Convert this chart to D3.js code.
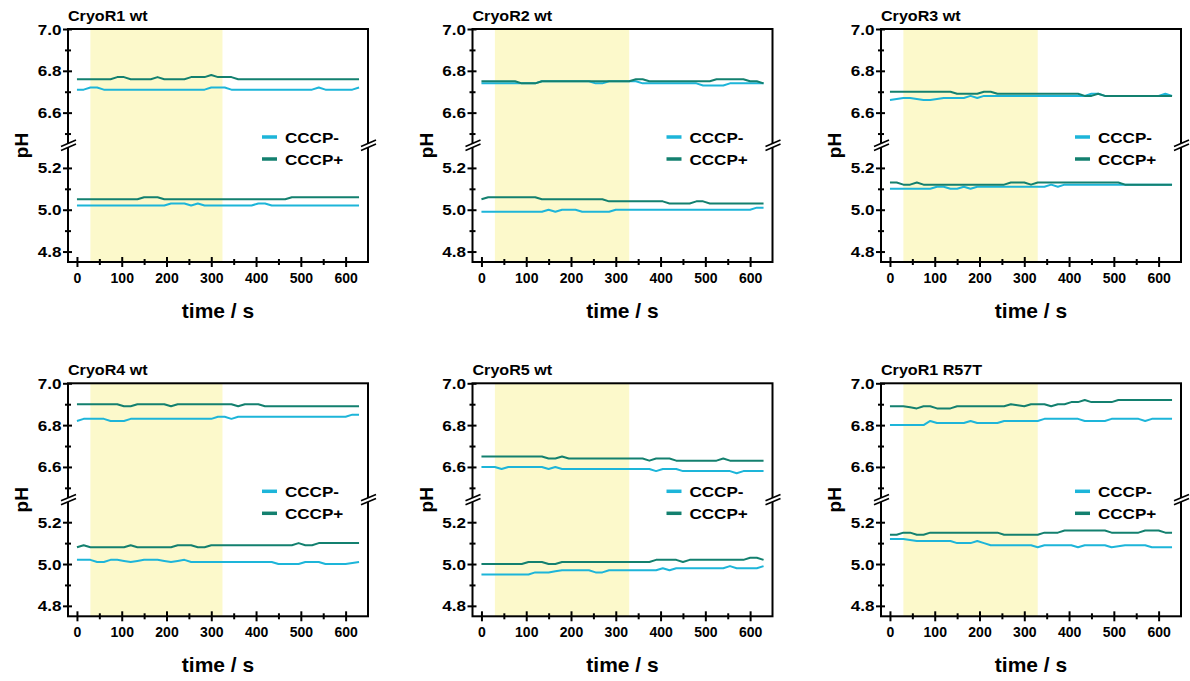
<!DOCTYPE html>
<html>
<head>
<meta charset="utf-8">
<script src="https://cdn.jsdelivr.net/npm/d3@7"></script>
<style>
  body { margin: 0; background: #fff; }
  svg { display: block; }
  text { font-family: "Liberation Sans", Arial, sans-serif; font-weight: bold; fill: #000; }
</style>
</head>
<body>
<svg id="chart" width="1190" height="681"></svg>
<script>
// ---- sampling times (s) ----
const time = [0,15,30,45,60,75,90,105,120,135,150,165,180,195,210,225,240,255,270,285,300,315,330,345,360,375,390,405,420,435,450,465,480,495,510,525,540,555,570,585,600,615,630];

// ---- pH traces: "_hi" = near-neutral start, "_lo" = acidic start ----
// CryoR1 wt
const r1wt_minus_hi = [6.71,6.71,6.72,6.72,6.71,6.71,6.71,6.71,6.71,6.71, 6.71,6.71,6.71,6.71,6.71,6.71,6.71,6.71,6.71,6.71, 6.72,6.72,6.72,6.71,6.71,6.71,6.71,6.71,6.71,6.71, 6.71,6.71,6.71,6.71,6.71,6.71,6.72,6.71,6.71,6.71, 6.71,6.71,6.72];
const r1wt_plus_hi  = [6.76,6.76,6.76,6.76,6.76,6.76,6.77,6.77,6.76,6.76, 6.76,6.76,6.77,6.76,6.76,6.76,6.76,6.77,6.77,6.77, 6.78,6.77,6.77,6.77,6.76,6.76,6.76,6.76,6.76,6.76, 6.76,6.76,6.76,6.76,6.76,6.76,6.76,6.76,6.76,6.76, 6.76,6.76,6.76];
const r1wt_minus_lo = [5.02,5.02,5.02,5.02,5.02,5.02,5.02,5.02,5.02,5.02, 5.02,5.02,5.02,5.02,5.03,5.03,5.03,5.02,5.03,5.02, 5.02,5.02,5.02,5.02,5.02,5.02,5.02,5.03,5.03,5.02, 5.02,5.02,5.02,5.02,5.02,5.02,5.02,5.02,5.02,5.02, 5.02,5.02,5.02];
const r1wt_plus_lo  = [5.05,5.05,5.05,5.05,5.05,5.05,5.05,5.05,5.05,5.05, 5.06,5.06,5.06,5.05,5.05,5.05,5.05,5.05,5.05,5.05, 5.05,5.05,5.05,5.05,5.05,5.05,5.05,5.05,5.05,5.05, 5.05,5.05,5.06,5.06,5.06,5.06,5.06,5.06,5.06,5.06, 5.06,5.06,5.06];

// CryoR2 wt
const r2wt_minus_hi = [6.74,6.74,6.74,6.74,6.74,6.74,6.74,6.74,6.74,6.75, 6.75,6.75,6.75,6.75,6.75,6.75,6.75,6.74,6.74,6.75, 6.75,6.75,6.75,6.75,6.74,6.74,6.74,6.74,6.74,6.74, 6.74,6.74,6.74,6.73,6.73,6.73,6.73,6.74,6.74,6.74, 6.74,6.74,6.74];
const r2wt_plus_hi  = [6.75,6.75,6.75,6.75,6.75,6.75,6.74,6.74,6.74,6.75, 6.75,6.75,6.75,6.75,6.75,6.75,6.75,6.75,6.75,6.75, 6.75,6.75,6.75,6.76,6.76,6.75,6.75,6.75,6.75,6.75, 6.75,6.75,6.75,6.75,6.75,6.76,6.76,6.76,6.76,6.76, 6.75,6.75,6.74];
const r2wt_minus_lo = [4.99,4.99,4.99,4.99,4.99,4.99,4.99,4.99,4.99,4.99, 5.00,4.99,5.00,5.00,5.00,4.99,4.99,4.99,4.99,4.99, 5.00,5.00,5.00,5.00,5.00,5.00,5.00,5.00,5.00,5.00, 5.00,5.00,5.00,5.00,5.00,5.00,5.00,5.00,5.00,5.00, 5.00,5.01,5.01];
const r2wt_plus_lo  = [5.05,5.06,5.06,5.06,5.06,5.06,5.06,5.06,5.06,5.05, 5.05,5.05,5.05,5.05,5.05,5.05,5.05,5.05,5.05,5.04, 5.04,5.04,5.04,5.04,5.04,5.04,5.04,5.04,5.03,5.03, 5.03,5.03,5.04,5.04,5.03,5.03,5.03,5.03,5.03,5.03, 5.03,5.03,5.03];

// CryoR3 wt
const r3wt_minus_hi = [6.66,6.665,6.67,6.67,6.665,6.66,6.66,6.665,6.67,6.67, 6.67,6.67,6.68,6.67,6.68,6.68,6.68,6.68,6.68,6.68, 6.68,6.68,6.68,6.68,6.68,6.68,6.68,6.68,6.68,6.68, 6.69,6.69,6.68,6.68,6.68,6.68,6.68,6.68,6.68,6.68, 6.68,6.69,6.68];
const r3wt_plus_hi  = [6.70,6.70,6.70,6.70,6.70,6.70,6.70,6.70,6.70,6.70, 6.69,6.69,6.69,6.69,6.70,6.70,6.69,6.69,6.69,6.69, 6.69,6.69,6.69,6.69,6.69,6.69,6.69,6.69,6.69,6.68, 6.68,6.69,6.68,6.68,6.68,6.68,6.68,6.68,6.68,6.68, 6.68,6.68,6.68];
const r3wt_minus_lo = [5.10,5.10,5.10,5.10,5.10,5.10,5.10,5.11,5.11,5.10, 5.10,5.11,5.10,5.11,5.11,5.11,5.11,5.11,5.11,5.11, 5.11,5.11,5.11,5.11,5.12,5.11,5.12,5.12,5.12,5.12, 5.12,5.12,5.12,5.12,5.12,5.12,5.12,5.12,5.12,5.12, 5.12,5.12,5.12];
const r3wt_plus_lo  = [5.13,5.13,5.12,5.12,5.13,5.12,5.12,5.12,5.12,5.12, 5.12,5.12,5.12,5.12,5.12,5.12,5.12,5.12,5.13,5.13, 5.13,5.12,5.13,5.13,5.13,5.13,5.13,5.13,5.13,5.13, 5.13,5.13,5.13,5.13,5.13,5.12,5.12,5.12,5.12,5.12, 5.12,5.12,5.12];

// CryoR4 wt
const r4wt_minus_hi = [6.82,6.83,6.83,6.83,6.83,6.82,6.82,6.82,6.83,6.83, 6.83,6.83,6.83,6.83,6.83,6.83,6.83,6.83,6.83,6.83, 6.83,6.84,6.84,6.83,6.84,6.84,6.84,6.84,6.84,6.84, 6.84,6.84,6.84,6.84,6.84,6.84,6.84,6.84,6.84,6.84, 6.84,6.85,6.85];
const r4wt_plus_hi  = [6.90,6.90,6.90,6.90,6.90,6.90,6.90,6.89,6.89,6.90, 6.90,6.90,6.90,6.90,6.89,6.90,6.90,6.90,6.90,6.90, 6.90,6.90,6.90,6.90,6.89,6.90,6.90,6.90,6.89,6.89, 6.89,6.89,6.89,6.89,6.89,6.89,6.89,6.89,6.89,6.89, 6.89,6.89,6.89];
const r4wt_minus_lo = [5.02,5.02,5.02,5.01,5.01,5.02,5.02,5.015,5.01,5.015, 5.02,5.02,5.02,5.015,5.01,5.015,5.02,5.01,5.01,5.01, 5.01,5.01,5.01,5.01,5.01,5.01,5.01,5.01,5.01,5.01, 5.00,5.00,5.00,5.00,5.01,5.01,5.01,5.00,5.00,5.00, 5.00,5.005,5.01];
const r4wt_plus_lo  = [5.08,5.09,5.08,5.08,5.08,5.08,5.08,5.08,5.09,5.08, 5.08,5.08,5.08,5.08,5.08,5.09,5.09,5.09,5.08,5.08, 5.09,5.09,5.09,5.09,5.09,5.09,5.09,5.09,5.09,5.09, 5.09,5.09,5.09,5.10,5.09,5.09,5.10,5.10,5.10,5.10, 5.10,5.10,5.10];

// CryoR5 wt
const r5wt_minus_hi = [6.60,6.60,6.60,6.59,6.60,6.60,6.60,6.60,6.60,6.60, 6.59,6.60,6.59,6.59,6.59,6.59,6.59,6.59,6.59,6.59, 6.59,6.59,6.59,6.59,6.59,6.59,6.58,6.59,6.59,6.59, 6.58,6.58,6.58,6.58,6.58,6.58,6.58,6.58,6.57,6.58, 6.58,6.58,6.58];
const r5wt_plus_hi  = [6.65,6.65,6.65,6.65,6.65,6.65,6.65,6.65,6.65,6.65, 6.64,6.64,6.65,6.64,6.64,6.64,6.64,6.64,6.64,6.64, 6.64,6.64,6.64,6.64,6.64,6.63,6.64,6.64,6.64,6.63, 6.63,6.63,6.63,6.63,6.63,6.63,6.64,6.63,6.63,6.63, 6.63,6.63,6.63];
const r5wt_minus_lo = [4.95,4.95,4.95,4.95,4.95,4.95,4.95,4.95,4.96,4.96, 4.96,4.965,4.97,4.97,4.97,4.97,4.97,4.96,4.96,4.97, 4.97,4.97,4.97,4.97,4.97,4.97,4.97,4.98,4.97,4.98, 4.98,4.98,4.98,4.98,4.98,4.98,4.98,4.99,4.98,4.98, 4.98,4.98,4.99];
const r5wt_plus_lo  = [5.00,5.00,5.00,5.00,5.00,5.00,5.00,5.01,5.01,5.01, 5.00,5.00,5.01,5.01,5.01,5.01,5.01,5.01,5.01,5.01, 5.01,5.01,5.01,5.01,5.01,5.01,5.02,5.02,5.02,5.02, 5.01,5.02,5.02,5.02,5.02,5.02,5.02,5.02,5.02,5.02, 5.03,5.03,5.02];

// CryoR1 R57T
const r1m_minus_hi = [6.80,6.80,6.80,6.80,6.80,6.80,6.82,6.81,6.81,6.81, 6.81,6.81,6.82,6.81,6.81,6.81,6.81,6.82,6.82,6.82, 6.82,6.82,6.82,6.83,6.83,6.83,6.83,6.83,6.83,6.82, 6.82,6.82,6.82,6.83,6.83,6.83,6.83,6.83,6.82,6.83, 6.83,6.83,6.83];
const r1m_plus_hi  = [6.89,6.89,6.89,6.885,6.88,6.89,6.89,6.88,6.88,6.88, 6.89,6.89,6.89,6.89,6.89,6.89,6.89,6.89,6.90,6.895, 6.89,6.90,6.90,6.90,6.89,6.90,6.90,6.91,6.91,6.92, 6.91,6.91,6.91,6.91,6.92,6.92,6.92,6.92,6.92,6.92, 6.92,6.92,6.92];
const r1m_minus_lo = [5.12,5.12,5.12,5.115,5.11,5.11,5.11,5.11,5.11,5.11, 5.10,5.10,5.10,5.11,5.10,5.09,5.09,5.09,5.09,5.09, 5.09,5.09,5.08,5.09,5.09,5.09,5.09,5.09,5.08,5.09, 5.09,5.09,5.09,5.08,5.085,5.09,5.09,5.09,5.09,5.08, 5.08,5.08,5.08];
const r1m_plus_lo  = [5.14,5.14,5.15,5.15,5.14,5.14,5.15,5.15,5.15,5.15, 5.15,5.15,5.15,5.15,5.15,5.15,5.15,5.14,5.14,5.14, 5.14,5.14,5.14,5.15,5.15,5.15,5.16,5.16,5.16,5.16, 5.16,5.16,5.16,5.15,5.15,5.15,5.15,5.15,5.16,5.16, 5.16,5.15,5.15];

// ---- labels, illumination window and axis ticks ----
const panelTitles = ["CryoR1 wt", "CryoR2 wt", "CryoR3 wt", "CryoR4 wt", "CryoR5 wt", "CryoR1 R57T"];
const seriesNames = ["CCCP-", "CCCP+"];
const lightOn  = [30, 30, 30, 30, 30, 30];
const lightOff = [325, 330, 330, 325, 330, 330];
const xMajor = [0, 100, 200, 300, 400, 500, 600];
const xMinor = [50, 150, 250, 350, 450, 550];
const yMajorHi = [6.6, 6.8, 7.0];
const yMinorHi = [6.5, 6.7, 6.9];
const yMajorLo = [4.8, 5.0, 5.2];
const yMinorLo = [4.9, 5.1];
const xLabel = "time / s";
const yLabel = "pH";

const traces = [
  [r1wt_minus_hi, r1wt_plus_hi, r1wt_minus_lo, r1wt_plus_lo],
  [r2wt_minus_hi, r2wt_plus_hi, r2wt_minus_lo, r2wt_plus_lo],
  [r3wt_minus_hi, r3wt_plus_hi, r3wt_minus_lo, r3wt_plus_lo],
  [r4wt_minus_hi, r4wt_plus_hi, r4wt_minus_lo, r4wt_plus_lo],
  [r5wt_minus_hi, r5wt_plus_hi, r5wt_minus_lo, r5wt_plus_lo],
  [r1m_minus_hi,  r1m_plus_hi,  r1m_minus_lo,  r1m_plus_lo]
];

// ---- styling / layout ----
const colors = { "CCCP-": "#1db5d9", "CCCP+": "#13806f" };
const shadeColor = "#fcf9cb";
const colLeft = [68, 472.5, 881];
const rowTop = [29, 383.3];
const W = 300, H = 233, gap = 3;
const segH = (H - gap) / 2;
const yTickStretch = 1.22;   // tick numerals on the pH axis are set wide

const svg = d3.select("#chart");

traces.forEach((set, p) => {
  const left = colLeft[p % 3], top = rowTop[Math.floor(p / 3)];
  const g = svg.append("g").attr("transform", `translate(${left},${top})`);

  const x = d3.scaleLinear().domain([-20, 650]).range([0, W]);
  const yHi = d3.scaleLinear().domain([6.45, 7.0]).range([segH, 0]);
  const yLo = d3.scaleLinear().domain([4.75, 5.30]).range([H, H - segH]);

  // illumination period
  g.append("rect")
    .attr("x", x(lightOn[p])).attr("y", 0)
    .attr("width", x(lightOff[p]) - x(lightOn[p])).attr("height", H)
    .attr("fill", shadeColor);

  // traces: CCCP- first, CCCP+ on top
  const pairs = [[set[0], "CCCP-", yHi], [set[2], "CCCP-", yLo], [set[1], "CCCP+", yHi], [set[3], "CCCP+", yLo]];
  pairs.forEach(([vals, name, y]) => {
    const line = d3.line().x((d, i) => x(time[i])).y(d => y(d));
    g.append("path").datum(vals)
      .attr("d", line)
      .attr("fill", "none")
      .attr("stroke", colors[name])
      .attr("stroke-width", 2)
      .attr("stroke-linejoin", "round");
  });

  // frame
  g.append("rect").attr("x", 0).attr("y", 0).attr("width", W).attr("height", H)
    .attr("fill", "none").attr("stroke", "#000").attr("stroke-width", 2);

  // x axis
  const gx = g.append("g").attr("transform", `translate(0,${H})`)
    .call(d3.axisBottom(x).tickValues(xMajor).tickFormat(d3.format("d")).tickSizeOuter(0));
  gx.select(".domain").remove();
  gx.selectAll(".tick line").attr("y1", -5).attr("y2", 5).attr("stroke", "#000").attr("stroke-width", 2);
  gx.selectAll(".tick text").attr("y", 21).attr("dy", null).style("font-size", "14px");
  const gxm = g.append("g").attr("transform", `translate(0,${H})`)
    .call(d3.axisBottom(x).tickValues(xMinor).tickFormat("").tickSizeOuter(0));
  gxm.select(".domain").remove();
  gxm.selectAll(".tick line").attr("y1", -3).attr("y2", 3).attr("stroke", "#000").attr("stroke-width", 2);

  // y axes (two segments)
  [[yHi, yMajorHi, yMinorHi], [yLo, yMajorLo, yMinorLo]].forEach(([y, major, minor]) => {
    const ga = g.append("g").call(d3.axisLeft(y).tickValues(major).tickFormat(d3.format(".1f")).tickSizeOuter(0));
    ga.select(".domain").remove();
    ga.selectAll(".tick line").attr("x1", -5).attr("x2", 4).attr("stroke", "#000").attr("stroke-width", 2);
    ga.selectAll(".tick text")
      .attr("x", -6.5 / yTickStretch).attr("dy", "0.36em")
      .attr("transform", `scale(${yTickStretch},1)`)
      .style("font-size", "14px");
    const gm = g.append("g").call(d3.axisLeft(y).tickValues(minor).tickFormat("").tickSizeOuter(0));
    gm.select(".domain").remove();
    gm.selectAll(".tick line").attr("x1", -3).attr("x2", 3).attr("stroke", "#000").attr("stroke-width", 2);
  });

  // axis break marks on both vertical edges
  const yb = H / 2;
  [0, W].forEach(ax => {
    const b = g.append("g").attr("transform", `translate(${ax},${yb})`);
    b.append("polygon").attr("points", "-7,1 8,-5.4 8,-1.4 -7,5").attr("fill", "#fff");
    b.append("line").attr("x1", -7).attr("y1", 1).attr("x2", 8).attr("y2", -5.4).attr("stroke", "#000").attr("stroke-width", 1.6);
    b.append("line").attr("x1", -7).attr("y1", 5).attr("x2", 8).attr("y2", -1.4).attr("stroke", "#000").attr("stroke-width", 1.6);
  });

  // titles and axis labels
  g.append("text").attr("transform", "translate(0,-8.5) scale(1.15,1)")
    .style("font-size", "14px").text(panelTitles[p]);
  g.append("text").attr("transform", `translate(${W / 2},${H + 56}) scale(1.05,1)`).attr("text-anchor", "middle")
    .style("font-size", "20px").text(xLabel);
  g.append("text").attr("transform", `translate(${-40},${H / 2}) rotate(-90)`)
    .attr("text-anchor", "middle").style("font-size", "19px").text(yLabel);

  // legend
  const lg = g.append("g").attr("transform", "translate(194,108)");
  seriesNames.forEach((name, i) => {
    lg.append("line").attr("x1", 0).attr("x2", 15).attr("y1", i * 22).attr("y2", i * 22)
      .attr("stroke", colors[name]).attr("stroke-width", 3.5);
    lg.append("text").attr("transform", `translate(23,${i * 22}) scale(1.1,1)`).attr("dy", "0.36em")
      .style("font-size", "15.5px").text(name);
  });
});
</script>
</body>
</html>
